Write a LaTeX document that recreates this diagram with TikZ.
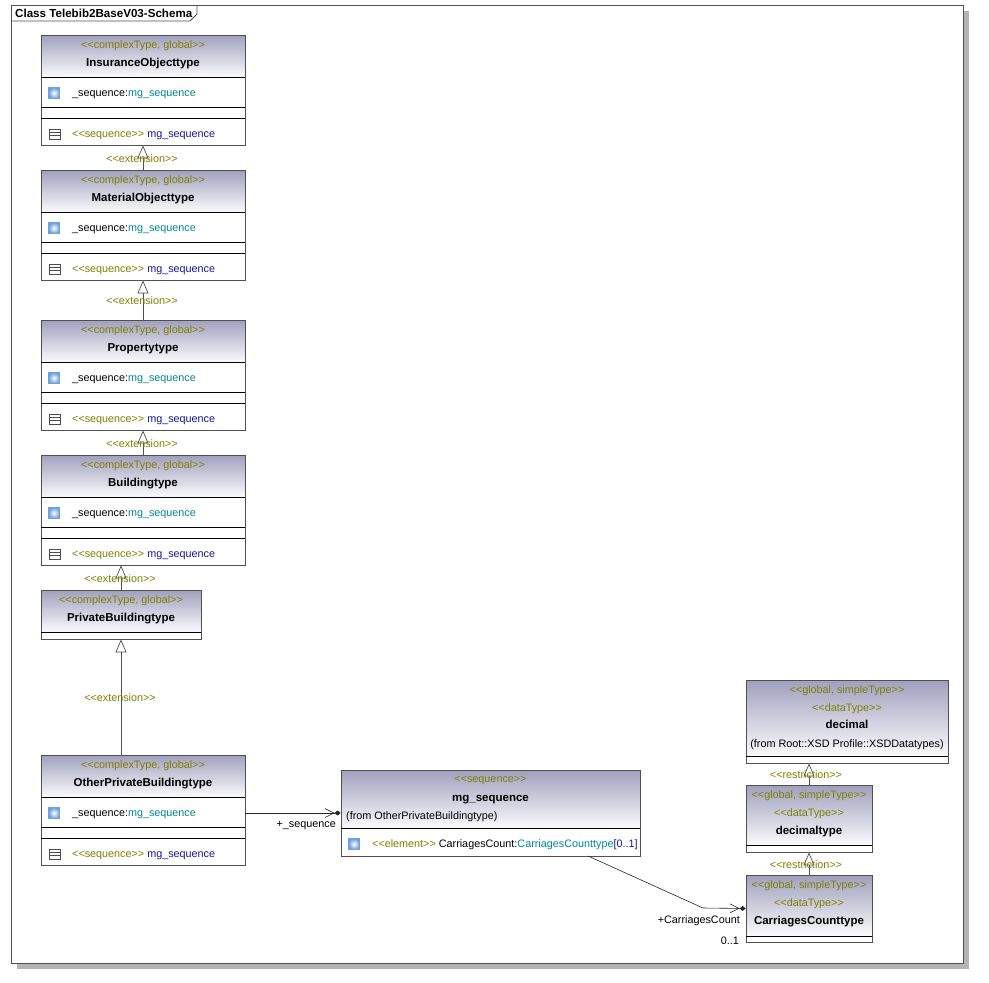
\documentclass[tikz,border=0pt]{standalone}
\usepackage{fontspec}
\setmainfont{Liberation Sans}[Ligatures=TeXOff]
\usetikzlibrary{arrows.meta}

\definecolor{stereo}{RGB}{128,128,0}
\definecolor{typeteal}{RGB}{0,136,150}
\definecolor{opblue}{RGB}{20,20,170}
\definecolor{hdtop}{RGB}{160,160,190}
\definecolor{hdbot}{RGB}{250,250,252}
\definecolor{edge}{RGB}{80,80,80}
\definecolor{shadowgray}{RGB}{180,180,180}
\definecolor{icoblue}{RGB}{110,160,220}

\begin{document}
\begin{tikzpicture}[x=1pt, y=-1pt,
  every node/.style={font=\fontsize{10.8}{12}\selectfont, inner sep=0pt, anchor=base},
  hdr/.style={top color=hdtop, bottom color=hdbot},
  cbox/.style={draw=edge, line width=0.8pt, anchor=center},
  sep/.style={draw=black, line width=0.7pt},
  st/.style={text=stereo},
  cname/.style={font=\fontsize{11.5}{12}\selectfont\bfseries},
  attico/.style={anchor=center, minimum size=11pt, inner color=white, outer color=icoblue, draw=icoblue, line width=0.4pt},
  opico/.style={anchor=center, minimum width=11pt, minimum height=10pt, draw=black!70, line width=0.6pt,
    path picture={\draw[black!70, line width=0.6pt]
      ([yshift=-3.3pt]path picture bounding box.north west) -- ([yshift=-3.3pt]path picture bounding box.north east)
      ([yshift=3.3pt]path picture bounding box.south west) -- ([yshift=3.3pt]path picture bounding box.south east);}},
  gen/.style={draw=edge, line width=0.7pt, -{Triangle[open, length=13pt, width=11pt]}},
  assoc/.style={draw=black!85, line width=0.6pt, -{Straight Barb[length=9pt, width=9pt] Diamond[length=6pt, width=5pt]}}
]
\useasboundingbox (0,0) rectangle (989,983);

% frame
\fill[shadowgray] (17,11) rectangle (969,969);
\draw[fill=white, draw=edge, line width=0.8pt] (11,5) rectangle (963,963);
\draw[draw=edge, line width=0.8pt] (11,21) -- (190,21) -- (197,14) -- (197,5);
\node[anchor=base west, font=\fontsize{11.6}{12}\selectfont\bfseries] (title) at (15,17) {Class Telebib2BaseV03-Schema};

% complexType boxes
\foreach \n/\t/\nm in {ins/35/InsuranceObjecttype, mat/170/MaterialObjecttype, prop/320/Propertytype, bld/455/Buildingtype, opb/755/OtherPrivateBuildingtype}{
  \shade[hdr] (41,\t) rectangle (245,\t+42);
  \node[cbox, minimum width=204pt, minimum height=110pt] (\n) at (143,\t+55) {};
  \draw[sep] (41,\t+42) -- (245,\t+42);
  \draw[sep] (41,\t+72) -- (245,\t+72);
  \draw[sep] (41,\t+83) -- (245,\t+83);
  \node[st] (\n-st) at (143,\t+13.5) {<<complexType, global>>};
  \node[cname] (\n-nm) at (143,\t+31.5) {\nm};
  \node[attico] (\n-ai) at (54,\t+58) {};
  \node[anchor=base west] (\n-at) at (72,\t+61.5) {\_sequence:\textcolor{typeteal}{mg\_sequence}};
  \node[opico] (\n-oi) at (54.5,\t+99) {};
  \node[anchor=base west] (\n-op) at (72,\t+102.5) {\textcolor{stereo}{<<sequence>>} \textcolor{opblue}{mg\_sequence}};
}

% PrivateBuildingtype
\shade[hdr] (41,590) rectangle (201,632);
\node[cbox, minimum width=160pt, minimum height=49pt] (pb) at (121,614.5) {};
\draw[sep] (41,632) -- (201,632);
\node[st] (pb-st) at (121,603.5) {<<complexType, global>>};
\node[cname] (pb-nm) at (121,621.5) {PrivateBuildingtype};

% extensions
\draw[gen] (mat.north) -- (ins.south);
\node[st] (ext1) at (142,162.5) {<<extension>>};
\draw[gen] (prop.north) -- (mat.south);
\node[st] (ext2) at (142,304.5) {<<extension>>};
\draw[gen] (bld.north) -- (prop.south);
\node[st] (ext3) at (142,447.5) {<<extension>>};
\draw[gen] (pb.north) -- (pb.north |- bld.south);
\node[st] (ext4) at (120,582.5) {<<extension>>};
\draw[gen] (pb.south |- opb.north) -- (pb.south);
\node[st] (ext5) at (120,701.5) {<<extension>>};

% mg_sequence
\shade[hdr] (341,770) rectangle (640,828);
\node[cbox, minimum width=299pt, minimum height=86pt] (mgs) at (490.5,813) {};
\draw[sep] (341,828) -- (640,828);
\node[st] (mgs-st) at (490.5,782.5) {<<sequence>>};
\node[cname] (mgs-nm) at (490.5,801.5) {mg\_sequence};
\node[anchor=base west] (mgs-fr) at (346,819.5) {(from OtherPrivateBuildingtype)};
\node[attico] (mgs-ai) at (354,844) {};
\node[anchor=base west] (mgs-el) at (372,847.5) {\textcolor{stereo}{<<element>>} CarriagesCount:\textcolor{typeteal}{CarriagesCounttype}\textcolor{opblue}{[0..1]}};

% simple types
\shade[hdr] (746,680) rectangle (948,756);
\node[cbox, minimum width=202pt, minimum height=83pt] (dec) at (847,721.5) {};
\draw[sep] (746,756) -- (948,756);
\node[st] (dec-st) at (847,693.5) {<<global, simpleType>>};
\node[st] (dec-dt) at (847,711.5) {<<dataType>>};
\node[cname] (dec-nm) at (847,728.5) {decimal};
\node (dec-fr) at (847,747.5) {(from Root::XSD Profile::XSDDatatypes)};

\shade[hdr] (746,785) rectangle (872,845);
\node[cbox, minimum width=126pt, minimum height=67pt] (dect) at (809,818.5) {};
\draw[sep] (746,845) -- (872,845);
\node[st] (dect-st) at (809,798.5) {<<global, simpleType>>};
\node[st] (dect-dt) at (809,816.5) {<<dataType>>};
\node[cname] (dect-nm) at (809,834.5) {decimaltype};

\shade[hdr] (746,875) rectangle (872,936);
\node[cbox, minimum width=126pt, minimum height=67pt] (ccnt) at (809,908.5) {};
\draw[sep] (746,936) -- (872,936);
\node[st] (ccnt-st) at (809,888.5) {<<global, simpleType>>};
\node[st] (ccnt-dt) at (809,906.5) {<<dataType>>};
\node[cname] (ccnt-nm) at (809,924.5) {CarriagesCounttype};

% restrictions
\draw[gen] (dect.north) -- (dect.north |- dec.south);
\node[st] (res1) at (806,778.5) {<<restriction>>};
\draw[gen] (ccnt.north) -- (dect.south);
\node[st] (res2) at (806,868.5) {<<restriction>>};

% associations
\draw[assoc] (opb.east |- mgs.west) -- (mgs.west);
\node[anchor=base east] (seqlbl) at (336,827.5) {+\_sequence};
\coordinate (mgsout) at (588,856);
\coordinate (bend) at (703,908);
\draw[assoc] (mgsout) -- (bend) -- (ccnt.west);
\node[anchor=base east] (cclbl) at (740,923.5) {+CarriagesCount};
\node[anchor=base east] (ccmul) at (739,944.5) {0..1};
\end{tikzpicture}
\end{document}
